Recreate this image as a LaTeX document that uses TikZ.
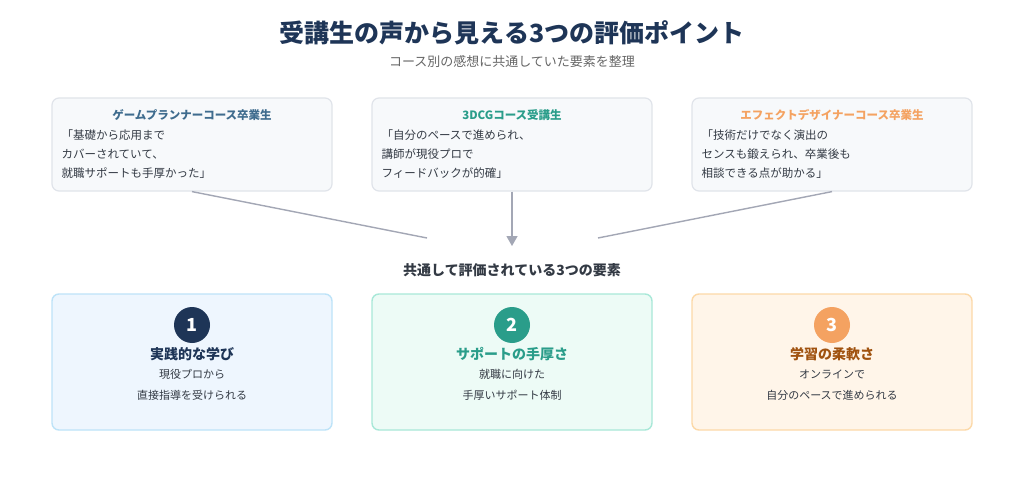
\documentclass[tikz,border=0pt]{standalone}
\usepackage{fontspec}
\setmainfont{Noto Sans CJK JP}
\usetikzlibrary{arrows.meta}
\definecolor{navy}{HTML}{1E3557}
\definecolor{teal}{HTML}{2A9D8A}
\definecolor{orng}{HTML}{F4A261}
\definecolor{brwn}{HTML}{A0520F}
\definecolor{gtxt}{HTML}{333A44}
\definecolor{hdrblue}{HTML}{3F6C8E}
\definecolor{qfill}{HTML}{F7F9FB}
\definecolor{qdraw}{HTML}{E0E4EA}
\definecolor{connc}{HTML}{A3A7B5}
\definecolor{f1}{HTML}{EEF6FE}\definecolor{b1}{HTML}{BDE3F8}
\definecolor{f2}{HTML}{EDFBF6}\definecolor{b2}{HTML}{A8E8D8}
\definecolor{f3}{HTML}{FFF5E9}\definecolor{b3}{HTML}{FCD9A8}
\tikzset{
 quote/.style={draw=qdraw,line width=1.2pt,fill=qfill,rounded corners=7pt,minimum width=280pt,minimum height=93pt},
 card/.style={line width=1.4pt,rounded corners=7pt,minimum width=280pt,minimum height=136pt},
 num/.style={circle,minimum size=36pt,text=white,font=\fontsize{18}{18}\selectfont\bfseries},
 hdr/.style={font=\fontsize{11.5}{13}\selectfont\bfseries},
 qt/.style={font=\fontsize{11.5}{19}\selectfont,text=gtxt,align=left,anchor=north west},
 ctitle/.style={font=\fontsize{14}{16}\selectfont\bfseries},
 cdesc/.style={font=\fontsize{11}{21}\selectfont,text=gtxt,align=center},
 conn/.style={draw=connc,line width=1.4pt}
}
\begin{document}
\begin{tikzpicture}[x=1pt,y=-1pt]
\useasboundingbox[fill=white] (0,0) rectangle (1024,478);
\node[font=\fontsize{25}{28}\selectfont\bfseries,text=navy] (title) at (512,33) {受講生の声から見える3つの評価ポイント};
\node[font=\fontsize{13}{15}\selectfont,text=black!60] (sub) at (512,62) {コース別の感想に共通していた要素を整理};
\node[quote] (q1) at (192,144.5) {};
\node[quote] (q2) at (512,144.5) {};
\node[quote] (q3) at (832,144.5) {};
\node[hdr,text=hdrblue] (h1) at (192,115) {ゲームプランナーコース卒業生};
\node[hdr,text=teal] (h2) at (512,115) {3DCGコース受講生};
\node[hdr,text=orng] (h3) at (832,115) {エフェクトデザイナーコース卒業生};
\node[qt] (t1) at (58,126) {「基礎から応用まで\\カバーされていて、\\就職サポートも手厚かった」};
\node[qt] (t2) at (378,126) {「自分のペースで進められ、\\講師が現役プロで\\フィードバックが的確」};
\node[qt] (t3) at (698,126) {「技術だけでなく演出の\\センスも鍛えられ、卒業後も\\相談できる点が助かる」};
\coordinate (e1) at (427,238);
\coordinate (e3) at (598,238);
\coordinate (e2) at (512,246);
\draw[conn] (q1.south) -- (e1);
\draw[conn] (q3.south) -- (e3);
\draw[conn,-{Triangle[length=10pt,width=11pt]}] (q2.south) -- (e2);
\node[font=\fontsize{14}{16}\selectfont\bfseries,text=gtxt] (mid) at (512,270) {共通して評価されている3つの要素};
\node[card,draw=b1,fill=f1] (c1) at (192,362) {};
\node[card,draw=b2,fill=f2] (c2) at (512,362) {};
\node[card,draw=b3,fill=f3] (c3) at (832,362) {};
\node[num,fill=navy] (n1) at (192,325) {1};
\node[num,fill=teal] (n2) at (512,325) {2};
\node[num,fill=orng] (n3) at (832,325) {3};
\node[ctitle,text=navy] (ct1) at (192,354) {実践的な学び};
\node[ctitle,text=teal] (ct2) at (512,354) {サポートの手厚さ};
\node[ctitle,text=brwn] (ct3) at (832,354) {学習の柔軟さ};
\node[cdesc] (d1) at (192,385) {現役プロから\\直接指導を受けられる};
\node[cdesc] (d2) at (512,385) {就職に向けた\\手厚いサポート体制};
\node[cdesc] (d3) at (832,385) {オンラインで\\自分のペースで進められる};
\end{tikzpicture}
\end{document}
